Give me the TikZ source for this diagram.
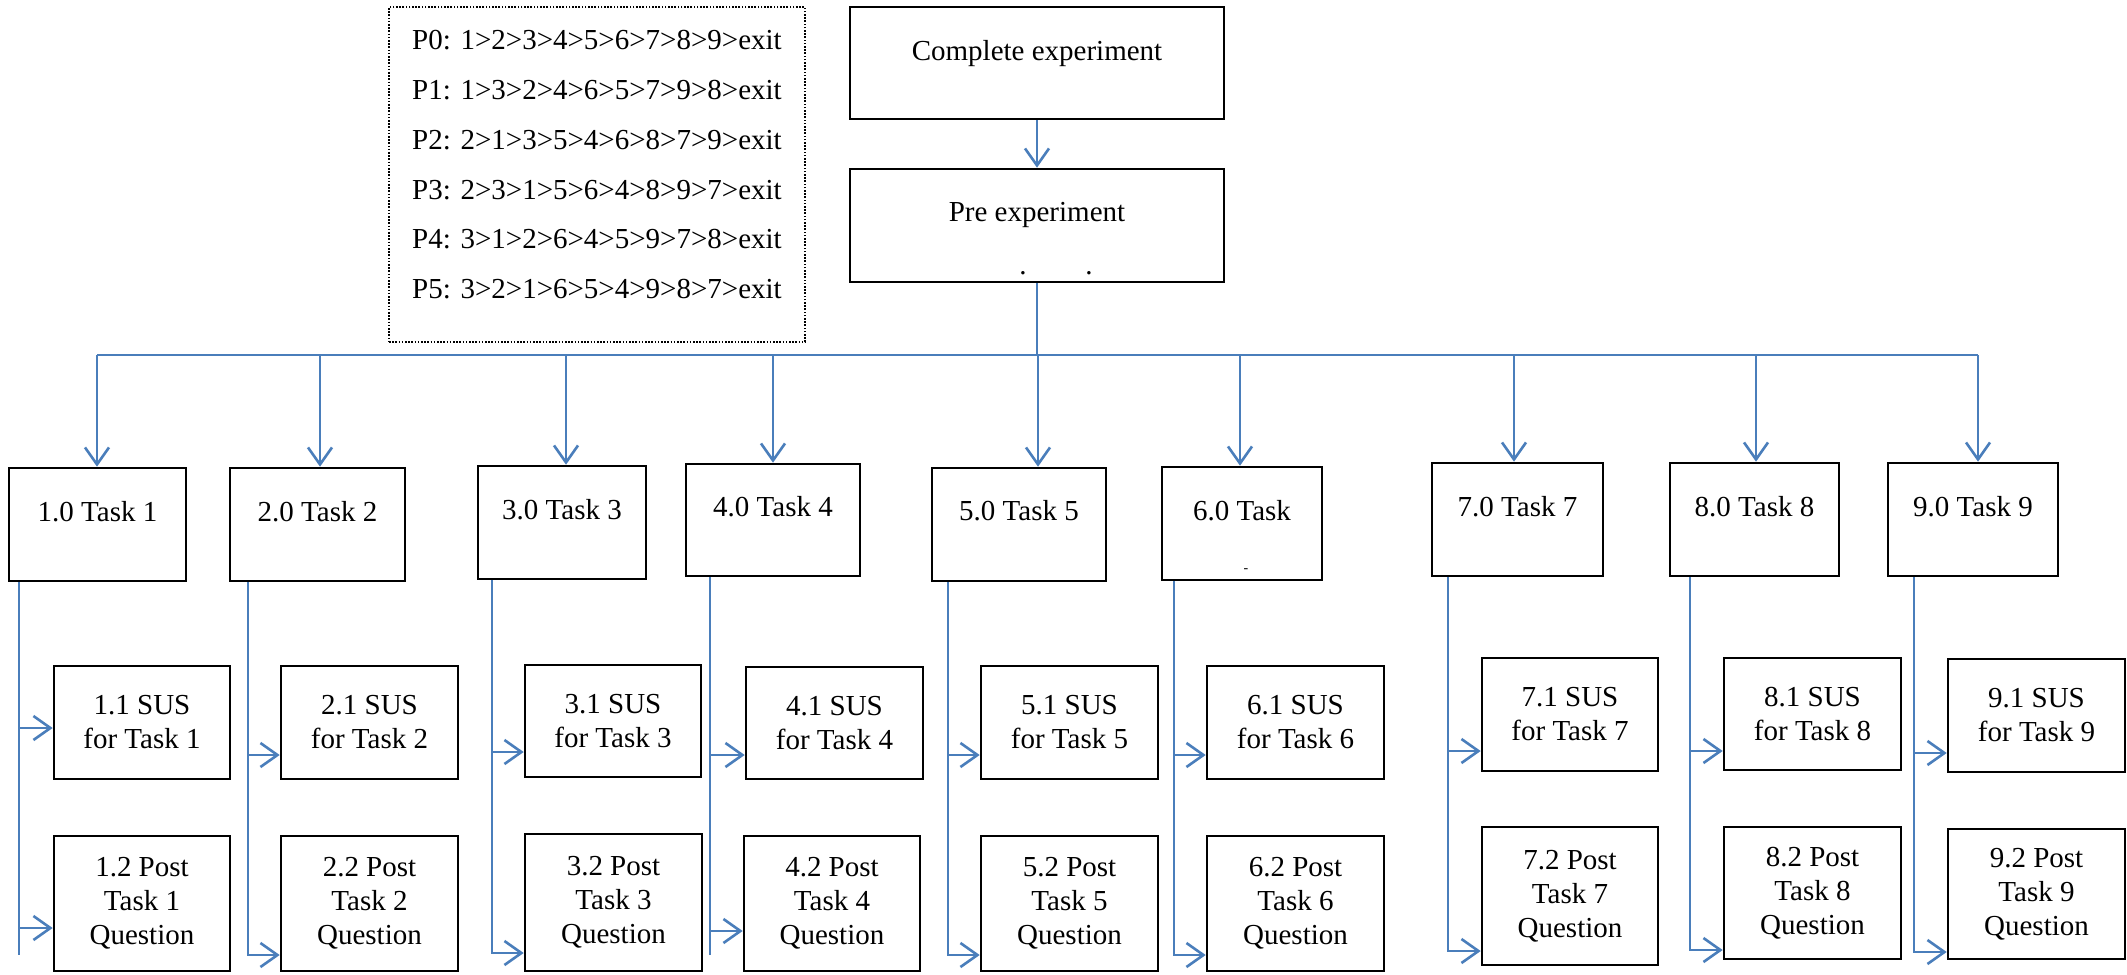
\documentclass[tikz,border=0pt]{standalone}
\usepackage{fontspec}
\setmainfont{Liberation Serif}
\usetikzlibrary{arrows.meta}
\definecolor{flow}{RGB}{74,126,187}
\tikzset{
  frame/.style={draw=black, line width=2.6pt, rectangle, inner sep=0pt},
  lbl/.style={font=\fontsize{29}{34}\selectfont, inner sep=0pt, align=center},
  wire/.style={draw=flow, line width=2.6pt},
  link/.style={wire, -{Straight Barb[length=17pt,width=24pt]}},
  orderbox/.style={draw=black, line width=1.6pt, dash pattern=on 1.6pt off 1.6pt, rectangle, inner sep=0pt},
}
% \boxfrom{name}{x1}{y1}{x2}{y2}{text}: rectangle node spanning two corners
\newcommand\boxfrom[6]{%
  \node[frame, lbl, minimum width={(#4-#2)*1pt}, minimum height={(#5-#3)*1pt}]
    (#1) at ({(#2+#4)/2},{(#3+#5)/2}) {#6};}
\begin{document}
\begin{tikzpicture}[x=1pt,y=-1pt]
\useasboundingbox (0,0) rectangle (2127,974);

% participant orderings
\node[orderbox, minimum width=416pt, minimum height=335pt] (orders) at (597,174.5) {};
\node[lbl, anchor=base west] (p0) at (412,50)  {P0: 1>2>3>4>5>6>7>8>9>exit};
\node[lbl, anchor=base west] (p1) at (412,99)  {P1: 1>3>2>4>6>5>7>9>8>exit};
\node[lbl, anchor=base west] (p2) at (412,149) {P2: 2>1>3>5>4>6>8>7>9>exit};
\node[lbl, anchor=base west] (p3) at (412,199) {P3: 2>3>1>5>6>4>8>9>7>exit};
\node[lbl, anchor=base west] (p4) at (412,248) {P4: 3>1>2>6>4>5>9>7>8>exit};
\node[lbl, anchor=base west] (p5) at (412,298) {P5: 3>2>1>6>5>4>9>8>7>exit};

% top of the hierarchy
\boxfrom{comp}{850}{7}{1224}{119}{}
\node[lbl, anchor=base] (compl) at ([yshift=-55pt]comp.north) {Complete experiment};
\boxfrom{pre}{850}{169}{1224}{282}{}
\node[lbl, anchor=base] (prel) at ([yshift=-54pt]pre.north) {Pre experiment};
\node[lbl, anchor=base] (dotA) at (1023,274) {.};
\node[lbl, anchor=base] (dotB) at (1089,274) {.};

% tasks
\boxfrom{t1}{9}{468}{186}{581}{}
\boxfrom{t2}{230}{468}{405}{581}{}
\boxfrom{t3}{478}{466}{646}{579}{}
\boxfrom{t4}{686}{464}{860}{576}{}
\boxfrom{t5}{932}{468}{1106}{581}{}
\boxfrom{t6}{1162}{467}{1322}{580}{}
\boxfrom{t7}{1432}{463}{1603}{576}{}
\boxfrom{t8}{1670}{463}{1839}{576}{}
\boxfrom{t9}{1888}{463}{2058}{576}{}
\node[lbl, anchor=base] (t1l) at ([yshift=-55pt]t1.north) {1.0 Task 1};
\node[lbl, anchor=base] (t2l) at ([yshift=-55pt]t2.north) {2.0 Task 2};
\node[lbl, anchor=base] (t3l) at ([yshift=-55pt]t3.north) {3.0 Task 3};
\node[lbl, anchor=base] (t4l) at ([yshift=-54pt]t4.north) {4.0 Task 4};
\node[lbl, anchor=base] (t5l) at ([yshift=-54pt]t5.north) {5.0 Task 5};
\node[lbl, anchor=base] (t6l) at ([yshift=-55pt]t6.north) {6.0 Task};
\node[font=\fontsize{14}{14}\selectfont, inner sep=0pt, anchor=base] (t6m) at (1246,572) {-};
\node[lbl, anchor=base] (t7l) at ([yshift=-55pt]t7.north) {7.0 Task 7};
\node[lbl, anchor=base] (t8l) at ([yshift=-55pt]t8.north) {8.0 Task 8};
\node[lbl, anchor=base] (t9l) at ([yshift=-55pt]t9.north) {9.0 Task 9};

% SUS questionnaires
\boxfrom{s1}{54}{666}{230}{779}{1.1 SUS\\for Task 1}
\boxfrom{s2}{281}{666}{458}{779}{2.1 SUS\\for Task 2}
\boxfrom{s3}{525}{665}{701}{777}{3.1 SUS\\for Task 3}
\boxfrom{s4}{746}{667}{923}{779}{4.1 SUS\\for Task 4}
\boxfrom{s5}{981}{666}{1158}{779}{5.1 SUS\\for Task 5}
\boxfrom{s6}{1207}{666}{1384}{779}{6.1 SUS\\for Task 6}
\boxfrom{s7}{1482}{658}{1658}{771}{7.1 SUS\\for Task 7}
\boxfrom{s8}{1724}{658}{1901}{770}{8.1 SUS\\for Task 8}
\boxfrom{s9}{1948}{659}{2125}{772}{9.1 SUS\\for Task 9}

% post-task questions
\boxfrom{q1}{54}{836}{230}{971}{1.2 Post\\Task 1\\Question}
\boxfrom{q2}{281}{836}{458}{971}{2.2 Post\\Task 2\\Question}
\boxfrom{q3}{525}{834}{702}{971}{3.2 Post\\Task 3\\Question}
\boxfrom{q4}{744}{836}{920}{971}{4.2 Post\\Task 4\\Question}
\boxfrom{q5}{981}{836}{1158}{971}{5.2 Post\\Task 5\\Question}
\boxfrom{q6}{1207}{836}{1384}{971}{6.2 Post\\Task 6\\Question}
\boxfrom{q7}{1482}{827}{1658}{965}{7.2 Post\\Task 7\\Question}
\boxfrom{q8}{1724}{827}{1901}{959}{8.2 Post\\Task 8\\Question}
\boxfrom{q9}{1948}{829}{2125}{959}{9.2 Post\\Task 9\\Question}

% main flow
\draw[link] (comp.south) -- (pre.north);
\coordinate (busL) at (97,355);
\coordinate (busR) at (1978,355);
\draw[wire] (pre.south) -- (pre.south |- busL);
\draw[wire] (busL) -- (busR);

% drops from the bus to each task
\coordinate (d1) at (97,355);
\coordinate (d2) at (320,355);
\coordinate (d3) at (566,355);
\coordinate (d4) at (773,355);
\coordinate (d5) at (1038,355);
\coordinate (d6) at (1240,355);
\coordinate (d7) at (1514,355);
\coordinate (d8) at (1756,355);
\coordinate (d9) at (1978,355);
\foreach \k in {1,...,9} {
  \draw[link] (d\k) -- (d\k |- t\k.north);
}

% task branches to SUS and post-task questions
\coordinate (v1) at (19,955);
\draw[wire] (v1 |- t1.south) -- (v1);
\draw[link] (19,728) -- (s1.west |- 19,728);
\draw[link] (19,928) -- (q1.west |- 19,928);

\coordinate (v2) at (248,955);
\draw[link] (v2 |- t2.south) -- (v2) -- (v2 -| q2.west);
\draw[link] (248,755) -- (s2.west |- 248,755);

\coordinate (v3) at (492,953);
\draw[link] (v3 |- t3.south) -- (v3) -- (v3 -| q3.west);
\draw[link] (492,752) -- (s3.west |- 492,752);

\coordinate (v4) at (710,955);
\draw[wire] (v4 |- t4.south) -- (v4);
\draw[link] (710,755) -- (s4.west |- 710,755);
\draw[link] (710,931) -- (q4.west |- 710,931);

\coordinate (v5) at (948,955);
\draw[link] (v5 |- t5.south) -- (v5) -- (v5 -| q5.west);
\draw[link] (948,755) -- (s5.west |- 948,755);

\coordinate (v6) at (1174,955);
\draw[link] (v6 |- t6.south) -- (v6) -- (v6 -| q6.west);
\draw[link] (1174,755) -- (s6.west |- 1174,755);

\coordinate (v7) at (1448,951);
\draw[link] (v7 |- t7.south) -- (v7) -- (v7 -| q7.west);
\draw[link] (1448,751) -- (s7.west |- 1448,751);

\coordinate (v8) at (1690,950);
\draw[link] (v8 |- t8.south) -- (v8) -- (v8 -| q8.west);
\draw[link] (1690,751) -- (s8.west |- 1690,751);

\coordinate (v9) at (1914,952);
\draw[link] (v9 |- t9.south) -- (v9) -- (v9 -| q9.west);
\draw[link] (1914,753) -- (s9.west |- 1914,753);
\end{tikzpicture}
\end{document}
